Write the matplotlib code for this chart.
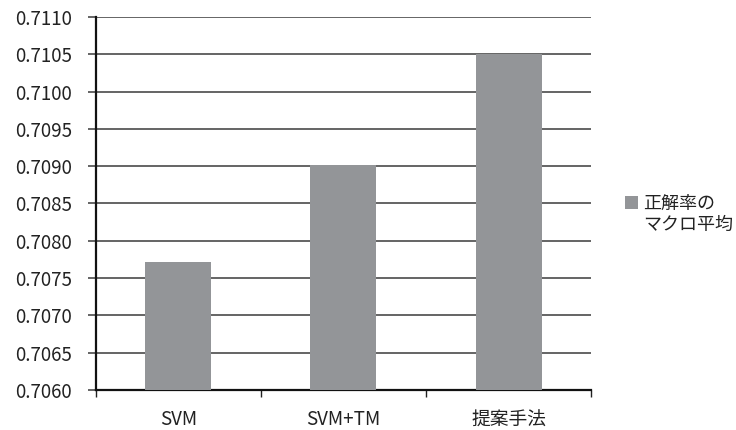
import numpy as np
import matplotlib
matplotlib.use("Agg")
import matplotlib.pyplot as plt
from matplotlib.patches import Patch

plt.rcParams['font.family'] = ['Noto Sans CJK JP', 'DejaVu Sans']

categories = ['SVM', 'SVM+TM', '提案手法']
values = [0.70771, 0.70901, 0.71051]
series_label = ['正解率の', 'マクロ平均']
yticks = np.arange(0.7060, 0.71101, 0.0005)

bar_color = '#939598'

fig = plt.figure(figsize=(7.36, 4.3), dpi=100)
ax = fig.add_axes([0.1304, 0.093, 0.803 - 0.1304, 0.9605 - 0.093])

x = np.arange(len(categories))
ax.bar(x, values, width=0.4, color=bar_color, zorder=3)

ax.set_ylim(0.7060, 0.7110)
ax.set_xlim(-0.5, len(categories) - 0.5)
ax.set_yticks(yticks)
ax.set_yticklabels([f'{v:.4f}' for v in yticks], fontsize=13.5, color='#222222')
ax.yaxis.grid(True, color='#3a3a3a', linewidth=1.1, zorder=0)

# category labels centered, tick marks at boundaries
ax.set_xticks(x)
ax.set_xticklabels(categories, fontsize=13.5, color='#222222')
ax.tick_params(axis='x', length=0, pad=14)
ax.set_xticks(np.arange(-0.5, len(categories)), minor=True)
ax.tick_params(axis='x', which='minor', length=5, width=1, color='#222222', direction='out')
ax.tick_params(axis='y', length=5.8, width=1.1, color='#3a3a3a', direction='out', pad=11.5)

for s in ['top', 'right']:
    ax.spines[s].set_visible(False)
for s in ['left', 'bottom']:
    ax.spines[s].set_linewidth(1.6)
    ax.spines[s].set_color('#111111')

# legend: swatch on first line, second line of label without swatch
handles = [Patch(facecolor=bar_color, edgecolor='none'), Patch(visible=False)]
leg = fig.legend(handles, series_label, loc='upper left',
                 bbox_to_anchor=(0.849, 0.547), frameon=False, fontsize=13,
                 handlelength=0.72, handleheight=0.72, handletextpad=0.28,
                 borderpad=0, borderaxespad=0, labelspacing=0.2)
for t in leg.get_texts():
    t.set_color('#222222')

fig.savefig('out.png', dpi=100)
